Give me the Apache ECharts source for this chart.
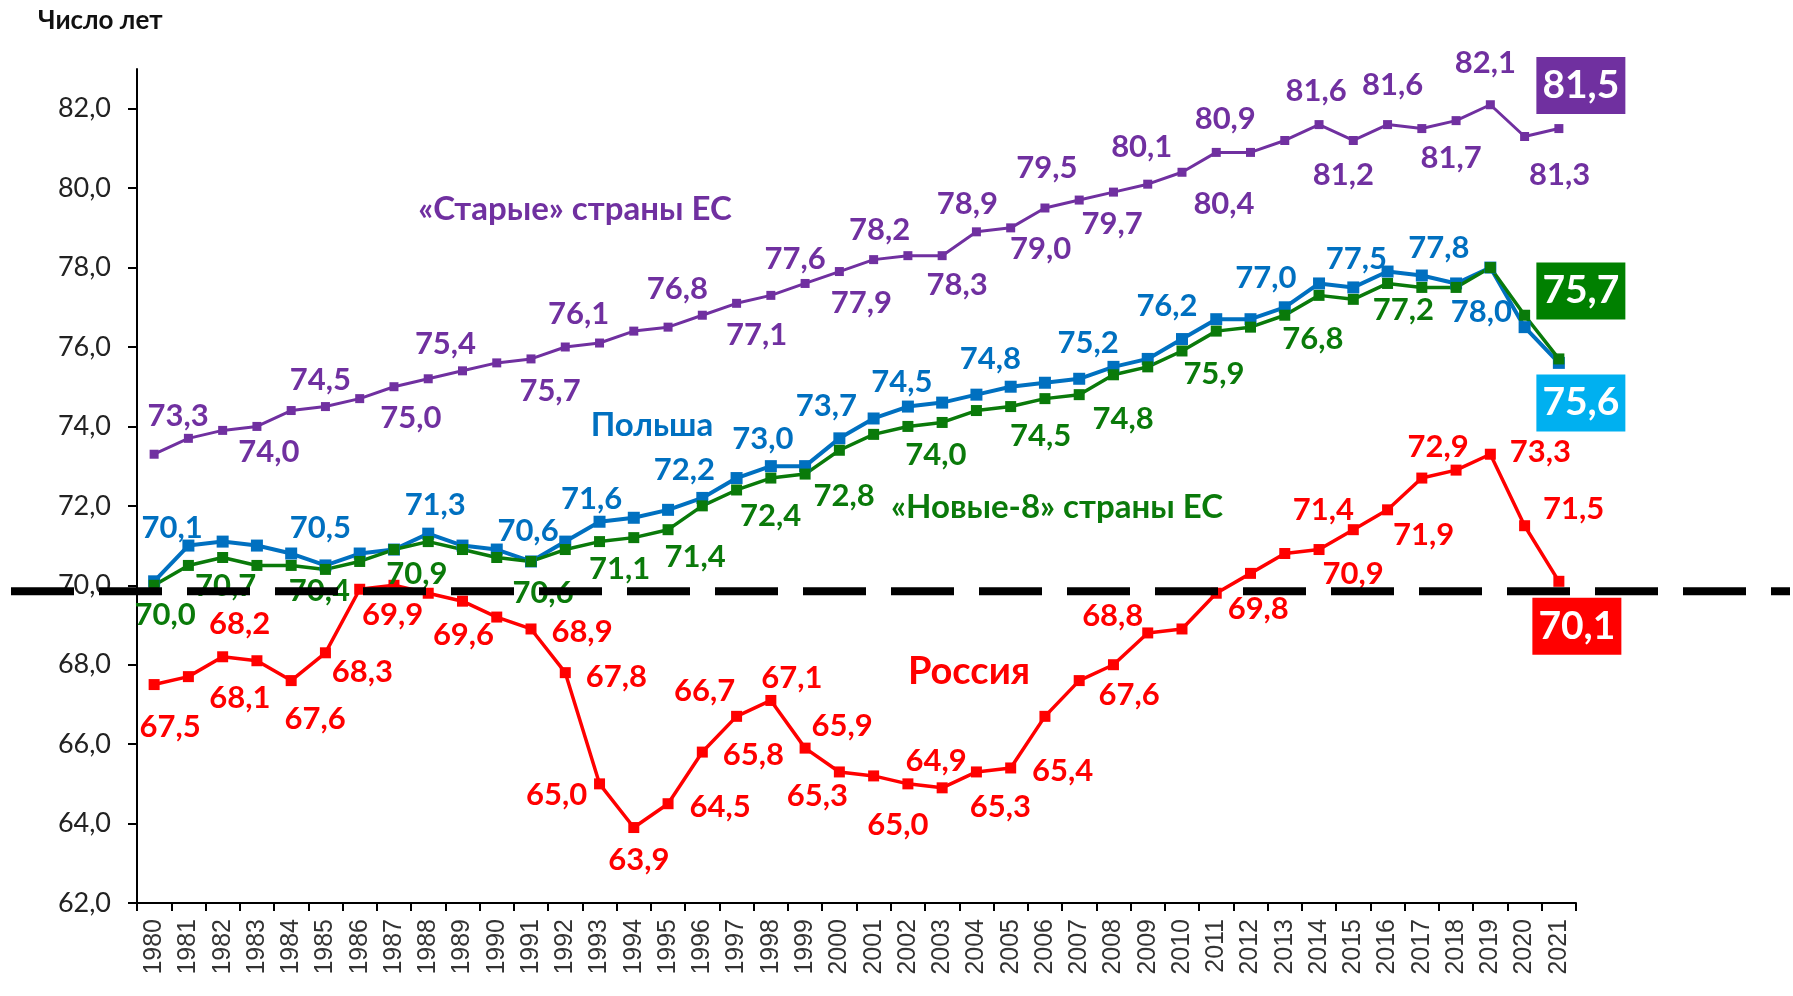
<!DOCTYPE html>
<html>
<head>
<meta charset="utf-8">
<script src="https://cdn.jsdelivr.net/npm/echarts@6/dist/echarts.min.js"></script>
<style>
  html, body { margin: 0; padding: 0; background: #fff; }
  #chart { width: 1793px; height: 996px; }
</style>
</head>
<body>
<div id="chart"></div>
<script>
var years = ['1980','1981','1982','1983','1984','1985','1986','1987','1988','1989',
  '1990','1991','1992','1993','1994','1995','1996','1997','1998','1999',
  '2000','2001','2002','2003','2004','2005','2006','2007','2008','2009',
  '2010','2011','2012','2013','2014','2015','2016','2017','2018','2019',
  '2020','2021'];

var yTicks = [62, 64, 66, 68, 70, 72, 74, 76, 78, 80, 82];

// «Старые» страны ЕС
var oldEU = [73.3, 73.7, 73.9, 74.0, 74.4, 74.5, 74.7, 75.0, 75.2, 75.4,
  75.6, 75.7, 76.0, 76.1, 76.4, 76.5, 76.8, 77.1, 77.3, 77.6,
  77.9, 78.2, 78.3, 78.3, 78.9, 79.0, 79.5, 79.7, 79.9, 80.1,
  80.4, 80.9, 80.9, 81.2, 81.6, 81.2, 81.6, 81.5, 81.7, 82.1,
  81.3, 81.5];

// Польша
var poland = [70.1, 71.0, 71.1, 71.0, 70.8, 70.5, 70.8, 70.9, 71.3, 71.0,
  70.9, 70.6, 71.1, 71.6, 71.7, 71.9, 72.2, 72.7, 73.0, 73.0,
  73.7, 74.2, 74.5, 74.6, 74.8, 75.0, 75.1, 75.2, 75.5, 75.7,
  76.2, 76.7, 76.7, 77.0, 77.6, 77.5, 77.9, 77.8, 77.6, 78.0,
  76.5, 75.6];

// «Новые-8» страны ЕС
var newEU8 = [70.0, 70.5, 70.7, 70.5, 70.5, 70.4, 70.6, 70.9, 71.1, 70.9,
  70.7, 70.6, 70.9, 71.1, 71.2, 71.4, 72.0, 72.4, 72.7, 72.8,
  73.4, 73.8, 74.0, 74.1, 74.4, 74.5, 74.7, 74.8, 75.3, 75.5,
  75.9, 76.4, 76.5, 76.8, 77.3, 77.2, 77.6, 77.5, 77.5, 78.0,
  76.8, 75.7];

// Россия
var russia = [67.5, 67.7, 68.2, 68.1, 67.6, 68.3, 69.9, 70.0, 69.8, 69.6,
  69.2, 68.9, 67.8, 65.0, 63.9, 64.5, 65.8, 66.7, 67.1, 65.9,
  65.3, 65.2, 65.0, 64.9, 65.3, 65.4, 66.7, 67.6, 68.0, 68.8,
  68.9, 69.8, 70.3, 70.8, 70.9, 71.4, 71.9, 72.7, 72.9, 73.3,
  71.5, 70.1];

var refLevel = 69.85; // пунктир

// which points carry a value label: [year, dx, dy] (offset of label from point)
var oldLabels = [[1980,24,-38],[1983,12,26],[1985,-5,-27],[1987,17,31],[1989,-17,-27],[1991,19,32],
  [1993,-21,-29],[1996,-25,-26],[1997,20,32],[1999,-10,-24],[2000,22,31],[2001,6,-30],[2003,15,29],
  [2004,-9,-28],[2005,30,21],[2006,2,-40],[2007,33,24],[2009,-6,-37],[2010,42,32],[2011,9,-33],
  [2014,-3,-34],[2015,-10,35],[2016,5,-40],[2018,-5,37],[2019,-5,-42],[2020,35,38]];
var polandLabels = [[1980,18,-53],[1985,-5,-37],[1988,7,-29],[1991,-3,-30],[1993,-8,-23],[1996,-18,-28],
  [1998,-8,-27],[2000,-13,-32],[2002,-6,-25],[2004,14,-36],[2007,9,-36],[2010,-15,-33],[2013,-19,-29],
  [2015,3,-28],[2017,17,-28],[2019,-9,44]];
var newLabels = [[1980,11,30],[1982,3,29],[1985,-6,22],[1987,23,24],[1991,12,32],[1993,20,27],
  [1995,27,27],[1997,34,26],[1999,39,22],[2002,28,29],[2005,30,29],[2007,44,24],[2010,32,23],
  [2013,28,24],[2015,50,11]];
var russiaLabels = [[1980,16,42],[1982,17,-33],[1983,-17,37],[1984,24,38],[1985,37,19],[1986,33,26],
  [1989,1,34],[1991,51,3],[1992,51,4],[1993,-43,11],[1994,5,32],[1995,52,3],[1996,51,3],[1997,-32,-25],
  [1998,21,-22],[1999,37,-22],[2000,-22,24],[2002,-10,41],[2003,-6,-27],[2004,24,35],[2005,52,3],
  [2007,50,14],[2009,-35,-17],[2011,42,16],[2014,34,24],[2015,-30,-20],[2016,36,25],[2018,-18,-23],
  [2019,50,-2],[2020,49,-17]];

function fmt(v) {
  return v.toFixed(1).replace('.', ',');
}

function buildData(values, labels, box, boxColor) {
  return values.map(function (v, i) {
    var yr = +years[i];
    if (i === values.length - 1) {
      return {
        value: v,
        label: {
          show: true, offset: box,
          color: '#fff', backgroundColor: boxColor,
          fontSize: 39, lineHeight: 46, padding: [6, 6, 5, 6]
        }
      };
    }
    for (var k = 0; k < labels.length; k++) {
      if (labels[k][0] === yr) {
        return { value: v, label: { show: true, offset: [labels[k][1], labels[k][2]] } };
      }
    }
    return v;
  });
}

function lineSeries(name, values, color, width, symSize, labels, box, boxColor) {
  return {
    name: name,
    type: 'line',
    data: buildData(values, labels, box, boxColor),
    symbol: 'rect',
    symbolSize: symSize,
    showAllSymbol: true,
    lineStyle: { color: color, width: width },
    itemStyle: { color: color },
    label: {
      show: false,
      position: 'inside',
      color: color,
      fontFamily: 'Lato',
      fontWeight: 'bold',
      fontSize: 31,
      formatter: function (p) { return fmt(p.value); }
    },
    emphasis: { disabled: true }
  };
}

var dom = document.getElementById('chart');
var myChart = echarts.init(dom);

var option = {
  animation: false,
  grid: { left: 137, right: 217, top: 69, bottom: 93 },
  xAxis: {
    type: 'category',
    data: years,
    boundaryGap: true,
    axisLine: { lineStyle: { color: '#000', width: 2 } },
    axisTick: { show: true, length: 8, lineStyle: { color: '#000', width: 2 } },
    axisLabel: {
      rotate: 90, interval: 0, margin: 16,
      fontFamily: 'Liberation Sans', fontSize: 25, color: '#333'
    }
  },
  yAxis: {
    type: 'value',
    min: 62,
    max: 83,
    interval: 2,
    splitLine: { show: false },
    axisLine: { show: true, lineStyle: { color: '#000', width: 2 } },
    axisTick: { show: true, length: 9, customValues: yTicks, lineStyle: { color: '#000', width: 2 } },
    axisLabel: {
      customValues: yTicks, margin: 26,
      fontFamily: 'Lato', fontSize: 27, color: '#222',
      formatter: function (v) { return fmt(v); }
    }
  },
  series: [
    lineSeries('«Старые» страны ЕС', oldEU, '#7030A0', 3, 9, oldLabels, [22, -43], '#7030A0'),
    lineSeries('Польша', poland, '#0070C0', 4, 12, polandLabels, [22, 40], '#00B0F0'),
    lineSeries('«Новые-8» страны ЕС', newEU8, '#0A7A0A', 3.5, 11, newLabels, [22, -68], '#008000'),
    lineSeries('Россия', russia, '#FF0000', 3.5, 11, russiaLabels, [18, 45], '#FF0000')
  ],
  graphic: [
    { type: 'text', left: 38, top: 8,
      style: { text: 'Число лет', fontFamily: 'Lato', fontWeight: 'bold', fontSize: 26, fill: '#111' } },
    { type: 'text', x: 575, y: 209,
      style: { text: '«Старые» страны ЕС', fontFamily: 'Lato', fontWeight: 'bold', fontSize: 33,
        fill: '#7030A0', align: 'center', verticalAlign: 'middle' } },
    { type: 'text', x: 652, y: 425,
      style: { text: 'Польша', fontFamily: 'Lato', fontWeight: 'bold', fontSize: 33,
        fill: '#0070C0', align: 'center', verticalAlign: 'middle' } },
    { type: 'text', x: 1057, y: 507,
      style: { text: '«Новые-8» страны ЕС', fontFamily: 'Lato', fontWeight: 'bold', fontSize: 33,
        fill: '#0A7A0A', align: 'center', verticalAlign: 'middle' } },
    { type: 'text', x: 969, y: 672,
      style: { text: 'Россия', fontFamily: 'Lato', fontWeight: 'bold', fontSize: 38,
        fill: '#FF0000', align: 'center', verticalAlign: 'middle' } }
  ]
};

myChart.setOption(option);

// black dashed reference line, wider than the plot area
var yRef = myChart.convertToPixel({ yAxisIndex: 0 }, refLevel);
myChart.setOption({
  graphic: option.graphic.concat([{
    type: 'line', z: 50,
    shape: { x1: 11, y1: yRef, x2: 1790, y2: yRef },
    style: { stroke: '#000', lineWidth: 8, lineDash: [63, 25] }
  }])
});
</script>
</body>
</html>
